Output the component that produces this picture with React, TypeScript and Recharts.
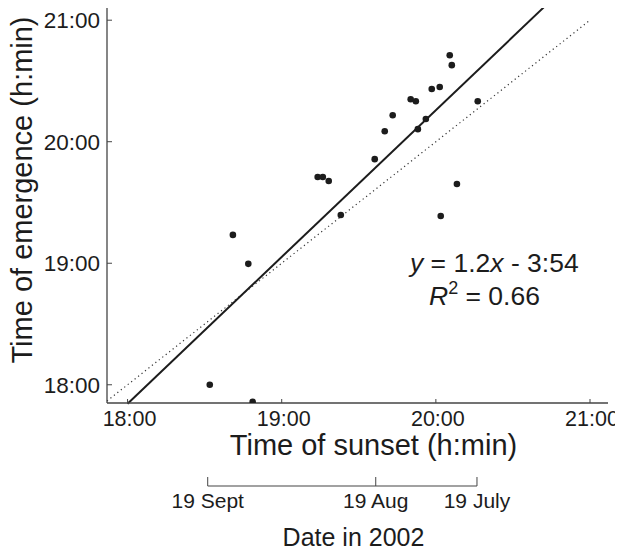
import React from 'react';
import {
  ScatterChart,
  Scatter,
  LineChart,
  Line,
  XAxis,
  YAxis,
  ReferenceLine,
} from 'recharts';

// sunset and emergence times, minutes after midnight
const sunsetTimes = [
  1121, 1127, 1112, 1128.7, 1154, 1156, 1158.3, 1163, 1176.2, 1180.1, 1183.2,
  1190.2, 1192.2, 1193, 1196.1, 1198.4, 1201.5, 1205.4, 1206.2, 1216.3, 1208.2, 1201.9,
];
const emergenceTimes = [
  1154, 1139.7, 1080, 1071.6, 1182.6, 1182.6, 1180.6, 1163.8, 1191.4, 1205.2, 1213.1,
  1221, 1220, 1206.2, 1211.2, 1226, 1227, 1242.7, 1237.8, 1220, 1179.1, 1163.3,
];

// least-squares fit, y = slope * x + intercept (minutes)
const fitSlope = 1.208;
const fitIntercept = -234;
const rSquared = 0.66;
const fitRange = [1080, 1242];
const identityRange = [1072, 1260];

const hourTicks = [1080, 1140, 1200, 1260];
const xDomain = [1072, 1267];
const yDomain = [1071, 1267.5];

// calendar dates and the sunset time on each
const dateLabels = ['19 Sept', '19 Aug', '19 July'];
const dateSunsets = [1111.2, 1176.6, 1216];

const FONT = '"Liberation Sans", Arial, Helvetica, sans-serif';
const INK = '#1c1c1c';
const AXIS = '#444';

const points = sunsetTimes.map((s, i) => ({ sunset: s, emergence: emergenceTimes[i] }));
const dateData = dateSunsets.map((s) => ({ sunset: s, base: 0 }));

function clock(m: number) {
  const h = Math.floor(m / 60);
  const mm = Math.round(m - h * 60);
  return `${h}:${String(mm).padStart(2, '0')}`;
}

const fitAt = (x: number) => fitSlope * x + fitIntercept;

const textStyle = (size: number) => ({ fontSize: size, fontFamily: FONT, fill: INK });

function XTick({ x, y, payload }: any) {
  return (
    <g>
      <line x1={x} y1={y} x2={x} y2={y - 4} stroke={AXIS} strokeWidth={1} />
      <text x={x + 2} y={y + 23} textAnchor="middle" style={textStyle(21.5)}>
        {clock(payload.value)}
      </text>
    </g>
  );
}

function YTick({ x, y, payload }: any) {
  return (
    <g>
      <line x1={x} y1={y} x2={x + 5} y2={y} stroke={AXIS} strokeWidth={1} />
      <text x={x - 7} y={y + 8} textAnchor="end" style={textStyle(22.5)}>
        {clock(payload.value)}
      </text>
    </g>
  );
}

function DateTick({ x, y, index }: any) {
  return (
    <g>
      <line x1={x} y1={y} x2={x} y2={y - 9} stroke={AXIS} strokeWidth={1} />
      <text x={x} y={y + 22} textAnchor="middle" style={textStyle(21)}>
        {dateLabels[index]}
      </text>
    </g>
  );
}

export default function App() {
  const interceptText = `${fitIntercept < 0 ? '-' : '+'} ${clock(Math.abs(fitIntercept))}`;

  return (
    <div style={{ position: 'relative', width: 623, height: 554, margin: -8, background: '#fff' }}>
      <ScatterChart width={623} height={470} margin={{ top: 5, right: 15, bottom: 0, left: 0 }}>
        <XAxis
          type="number"
          dataKey="sunset"
          domain={xDomain}
          ticks={hourTicks}
          interval={0}
          allowDataOverflow
          height={67}
          tickSize={0}
          tickMargin={0}
          tickLine={false}
          axisLine={{ stroke: AXIS, strokeWidth: 1.3 }}
          tick={<XTick />}
          label={{
            content: ({ viewBox }: any) => (
              <text
                x={viewBox.x + viewBox.width / 2 + 16}
                y={viewBox.y + 52}
                textAnchor="middle"
                style={textStyle(29)}
              >
                Time of sunset (h:min)
              </text>
            ),
          }}
        />
        <YAxis
          type="number"
          dataKey="emergence"
          domain={yDomain}
          ticks={hourTicks}
          interval={0}
          allowDataOverflow
          width={107}
          tickSize={0}
          tickMargin={0}
          tickLine={false}
          axisLine={{ stroke: AXIS, strokeWidth: 1.3 }}
          tick={<YTick />}
          label={{
            content: ({ viewBox }: any) => {
              const cx = 32;
              const cy = viewBox.y + viewBox.height / 2 - 14;
              return (
                <text
                  x={cx}
                  y={cy}
                  transform={`rotate(-90, ${cx}, ${cy})`}
                  textAnchor="middle"
                  style={textStyle(29)}
                >
                  Time of emergence (h:min)
                </text>
              );
            },
          }}
        />
        <ReferenceLine
          segment={[
            { x: identityRange[0], y: identityRange[0] },
            { x: identityRange[1], y: identityRange[1] },
          ]}
          stroke="#333"
          strokeWidth={1.2}
          strokeDasharray="1.2 3.2"
          ifOverflow="visible"
        />
        <ReferenceLine
          segment={[
            { x: fitRange[0], y: fitAt(fitRange[0]) },
            { x: fitRange[1], y: fitAt(fitRange[1]) },
          ]}
          stroke={INK}
          strokeWidth={2}
          ifOverflow="visible"
        />
        <Scatter
          data={points}
          isAnimationActive={false}
          shape={(p: any) => <circle cx={p.cx} cy={p.cy} r={3.3} fill={INK} />}
        />
        <text style={textStyle(26.5)}>
          <tspan x={410} y={272} fontStyle="italic">y</tspan>
          <tspan>{` = ${fitSlope.toFixed(1)}`}</tspan>
          <tspan fontStyle="italic">x</tspan>
          <tspan>{` ${interceptText}`}</tspan>
        </text>
        <text style={textStyle(26.5)}>
          <tspan x={429} y={305} fontStyle="italic">R</tspan>
          <tspan fontSize={18} dy={-11}>2</tspan>
          <tspan dy={11}>{` = ${rSquared.toFixed(2)}`}</tspan>
        </text>
      </ScatterChart>

      <div style={{ position: 'absolute', left: 0, top: 460 }}>
        <LineChart width={623} height={94} data={dateData} margin={{ top: 10, right: 15, bottom: 0, left: 107 }}>
          <XAxis
            type="number"
            dataKey="sunset"
            domain={xDomain}
            ticks={dateSunsets}
            interval={0}
            allowDataOverflow
            height={68}
            tickSize={0}
            tickMargin={0}
            tickLine={false}
            axisLine={false}
            tick={<DateTick />}
            label={{
              content: ({ viewBox }: any) => (
                <text
                  x={viewBox.x + viewBox.width / 2 - 4}
                  y={viewBox.y + 60}
                  textAnchor="middle"
                  style={textStyle(25)}
                >
                  Date in 2002
                </text>
              ),
            }}
          />
          <YAxis hide domain={[0, 1]} />
          <Line
            dataKey="base"
            stroke={AXIS}
            strokeWidth={1.2}
            dot={false}
            isAnimationActive={false}
          />
        </LineChart>
      </div>
    </div>
  );
}
